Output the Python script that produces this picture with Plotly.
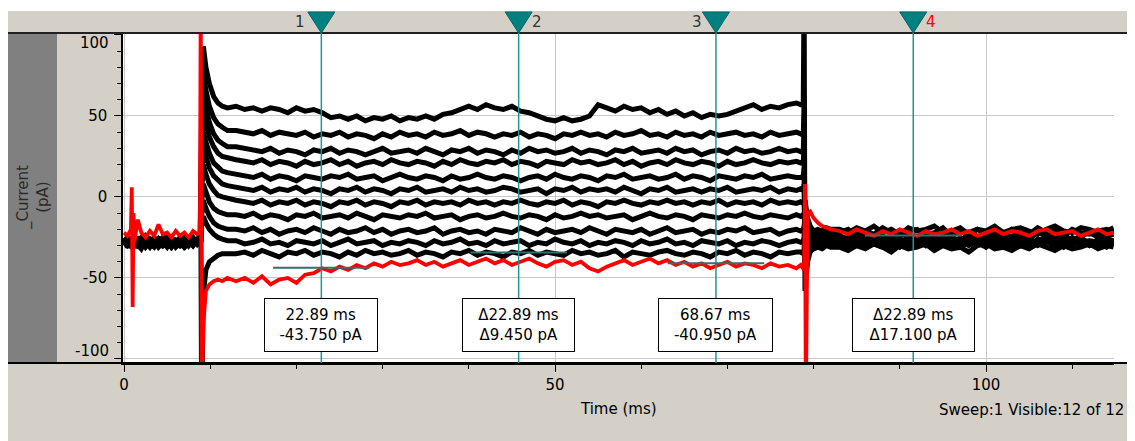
import plotly.graph_objects as go

# ---------------- time base (ms), split in segments ----------------
time_pre = [0, 0.4, 0.8, 0.9, 1.0, 1.1, 1.2, 1.6, 2.0, 2.5, 3.0, 3.5, 4.0, 4.5, 5.0, 5.5,
            6.0, 6.5, 7.0, 7.5, 8.0, 8.5]
time_onset = [8.8, 8.9, 9.0, 9.2, 9.5, 9.9, 10.4, 10.9, 11.4, 12.0]
time_step = [13, 14, 15, 16, 17, 18, 19, 20, 21, 22, 23, 24, 25, 26, 27, 28, 29, 30, 31, 32,
             33, 34, 35, 36, 37, 38, 39, 40, 41, 42, 43, 44, 45, 46, 47, 48, 49, 50, 51, 52,
             53, 54, 55, 56, 57, 58, 59, 60, 61, 62, 63, 64, 65, 66, 67, 68, 69, 70, 71, 72,
             73, 74, 75, 76, 77, 78]
time_offset = [78.5, 78.8, 78.9, 79.0, 79.1, 79.3, 79.6, 80.0, 80.5, 81.0, 81.5, 82.0]
time_tail = [83, 84, 85, 86, 87, 88, 89, 90, 91, 92, 93, 94, 95, 96, 97, 98, 99, 100, 101,
             102, 103, 104, 105, 106, 107, 108, 109, 110, 111, 112, 113, 114, 114.8]

# ---------------- current (pA) per sweep: [pre, onset, step, offset, tail] ----------------
sweep01 = [  # highlighted sweep (red)
    [-22, -24, -20, 6, -68, -10, -28, -14, -22, -25, -21, -24, -17, -23, -22, -25, -21, -24, -22, -25, -21, -23],
    [-22, 130, -130, -78, -58, -54, -52, -51, -52, -50],
    [-52, -50, -53, -49, -54, -51, -50, -53, -48, -47,
     -44, -46, -43, -45, -42, -44, -41, -43, -40, -42,
     -41, -39, -42, -40, -43, -41, -39, -42, -40, -38,
     -41, -39, -42, -40, -38, -41, -43, -40, -39, -42,
     -40, -44, -46, -43, -41, -39, -42, -40, -38, -41,
     -39, -42, -40, -43, -41, -44, -42, -40, -43, -41,
     -42, -44, -41, -43, -42, -44],
    [-42, -44, -45, 8, -130, -10, -9, -13, -16, -18, -19, -20],
    [-21, -23, -20, -22, -24, -21, -23, -20, -22, -24, -21, -23, -22, -20, -23, -21, -24,
     -22, -20, -23, -21, -22, -24, -21, -20, -23, -22, -21, -24, -22, -20, -23, -22],
]
sweep02 = [
    [-27, -29, -26, -28, -25, -30, -27, -29, -26, -28, -31, -27, -29, -26, -28, -30, -27, -29, -25, -28, -30, -27],
    [-27, 2, -130, -60, -45, -40, -38, -36, -35, -35],
    [-35, -34, -36, -33, -35, -37, -34, -35, -33, -36,
     -34, -35, -37, -34, -36, -33, -35, -34, -36, -35,
     -33, -36, -34, -35, -37, -34, -35, -33, -36, -34,
     -35, -37, -34, -35, -33, -36, -34, -35, -36, -33,
     -35, -34, -36, -35, -33, -37, -34, -35, -36, -34,
     -33, -35, -36, -34, -35, -37, -34, -35, -33, -36,
     -34, -35, -37, -34, -35, -34],
    [-34, -35, -33, -2, -8, -13, -18, -21, -23, -24, -25, -26],
    [-26, -28, -25, -29, -27, -24, -28, -26, -30, -27, -25, -28, -26, -29, -27, -24, -28,
     -26, -29, -27, -25, -28, -30, -26, -27, -29, -25, -28, -26, -30, -27, -25, -28],
]
sweep03 = [
    [-28, -26, -30, -27, -29, -31, -28, -26, -29, -27, -28, -30, -26, -29, -27, -31, -28, -26, -29, -27, -28, -26],
    [-27, -28, -18, -12, -16, -20, -23, -25, -26, -27],
    [-27, -29, -28, -26, -29, -28, -30, -27, -28, -29,
     -27, -30, -28, -26, -29, -28, -27, -30, -28, -29,
     -27, -28, -30, -27, -29, -28, -26, -29, -28, -30,
     -27, -29, -28, -27, -30, -28, -29, -26, -28, -29,
     -27, -30, -28, -29, -27, -28, -30, -27, -29, -28,
     -26, -29, -28, -30, -27, -28, -29, -27, -30, -28,
     -29, -27, -28, -30, -28, -27],
    [-28, -27, -25, -6, -10, -15, -19, -21, -22, -23, -22, -21],
    [-22, -20, -24, -21, -23, -19, -22, -24, -21, -20, -23, -22, -19, -24, -21, -22, -20,
     -23, -21, -24, -20, -22, -23, -19, -22, -21, -24, -20, -22, -23, -21, -20, -22],
]
sweep04 = [
    [-26, -29, -27, -31, -28, -25, -29, -27, -30, -26, -29, -27, -31, -28, -26, -29, -27, -30, -28, -26, -29, -28],
    [-28, -27, -12, -2, -7, -12, -16, -18, -19, -20],
    [-20, -21, -19, -22, -20, -23, -21, -20, -22, -19,
     -21, -23, -20, -22, -21, -19, -22, -20, -23, -21,
     -20, -22, -21, -19, -23, -21, -20, -22, -21, -23,
     -20, -21, -22, -19, -21, -23, -20, -22, -21, -20,
     -22, -19, -21, -23, -20, -21, -22, -20, -23, -21,
     -19, -22, -21, -20, -23, -21, -22, -20, -21, -19,
     -22, -21, -20, -23, -21, -20],
    [-21, -20, -18, -12, -15, -18, -21, -22, -24, -25, -24, -26],
    [-27, -30, -26, -28, -25, -29, -27, -31, -28, -26, -29, -27, -25, -28, -30, -27, -29,
     -26, -28, -31, -27, -25, -29, -28, -26, -30, -27, -28, -25, -29, -27, -31, -28],
]
sweep05 = [
    [-29, -27, -25, -29, -32, -27, -26, -30, -28, -24, -27, -29, -26, -30, -28, -25, -29, -27, -31, -28, -26, -27],
    [-26, -27, -4, 8, 3, -3, -7, -9, -10, -11],
    [-11, -12, -10, -13, -11, -12, -14, -11, -12, -10,
     -13, -12, -11, -13, -10, -12, -14, -11, -12, -13,
     -11, -12, -10, -13, -12, -11, -14, -12, -11, -13,
     -12, -10, -12, -13, -11, -12, -14, -11, -13, -12,
     -10, -12, -11, -13, -12, -11, -14, -12, -10, -12,
     -13, -11, -12, -14, -11, -12, -13, -11, -12, -10,
     -12, -13, -11, -12, -13, -11],
    [-12, -11, -10, -20, -21, -22, -23, -24, -25, -24, -25, -24],
    [-24, -26, -22, -25, -23, -27, -24, -22, -25, -26, -23, -24, -21, -25, -27, -23, -24,
     -26, -22, -25, -24, -23, -26, -22, -24, -25, -23, -27, -24, -22, -25, -24, -23],
]
sweep06 = [
    [-25, -28, -30, -26, -27, -29, -31, -27, -25, -29, -26, -28, -30, -27, -24, -28, -30, -26, -28, -29, -27, -29],
    [-27, -26, 4, 20, 14, 8, 4, 1, 0, -1],
    [-2, -3, -4, -2, -5, -3, -4, -2, -5, -3,
     -4, -6, -3, -4, -2, -5, -3, -4, -6, -3,
     -4, -2, -5, -3, -4, -3, -5, -2, -4, -3,
     -5, -3, -4, -2, -4, -5, -3, -4, -2, -5,
     -3, -4, -6, -3, -4, -2, -4, -5, -3, -4,
     -2, -4, -3, -5, -3, -4, -2, -5, -3, -4,
     -3, -5, -2, -4, -3, -4],
    [-3, -4, -2, -26, -25, -24, -25, -26, -24, -26, -25, -27],
    [-25, -28, -30, -26, -29, -27, -24, -28, -30, -27, -26, -29, -27, -30, -25, -28, -26,
     -29, -31, -27, -25, -28, -27, -30, -26, -28, -29, -25, -27, -30, -28, -26, -27],
]
sweep07 = [
    [-30, -27, -29, -26, -28, -30, -27, -29, -32, -27, -26, -29, -27, -25, -29, -27, -31, -28, -26, -30, -27, -28],
    [-28, -26, 12, 30, 24, 18, 13, 10, 8, 7],
    [6, 5, 4, 6, 3, 5, 4, 6, 3, 5,
     4, 2, 5, 4, 6, 3, 5, 4, 2, 5,
     4, 6, 3, 4, 5, 3, 6, 4, 5, 3,
     4, 6, 5, 3, 4, 5, 2, 5, 4, 6,
     3, 5, 4, 5, 3, 6, 4, 2, 5, 4,
     6, 3, 4, 5, 3, 5, 4, 6, 3, 4,
     5, 4, 6, 3, 5, 4],
    [5, 4, 8, -30, -28, -27, -26, -25, -26, -27, -25, -26],
    [-28, -30, -27, -25, -29, -28, -31, -26, -28, -27, -30, -25, -28, -29, -26, -30, -27,
     -28, -25, -29, -30, -27, -26, -29, -28, -24, -28, -30, -26, -28, -29, -27, -30],
]
sweep08 = [
    [-27, -31, -26, -29, -27, -24, -28, -30, -27, -26, -29, -31, -27, -28, -30, -26, -28, -25, -29, -27, -30, -26],
    [-26, -25, 20, 40, 34, 27, 21, 18, 16, 15],
    [14, 13, 12, 14, 11, 13, 12, 10, 13, 12,
     11, 13, 12, 14, 11, 12, 13, 10, 12, 14,
     12, 11, 13, 12, 10, 13, 11, 12, 14, 12,
     11, 13, 12, 10, 12, 13, 11, 14, 12, 11,
     13, 12, 10, 13, 12, 14, 11, 12, 13, 11,
     12, 14, 11, 13, 12, 10, 13, 12, 11, 13,
     12, 14, 11, 12, 13, 12],
    [12, 13, 18, -38, -36, -34, -33, -32, -31, -32, -30, -31],
    [-31, -33, -30, -32, -29, -31, -34, -30, -32, -31, -29, -33, -30, -32, -31, -34, -30,
     -29, -32, -31, -33, -30, -32, -29, -31, -33, -30, -32, -31, -29, -32, -30, -31],
]
sweep09 = [
    [-28, -25, -29, -27, -30, -28, -26, -29, -27, -31, -28, -25, -29, -27, -26, -30, -27, -29, -31, -27, -25, -29],
    [-27, -25, 28, 52, 45, 37, 31, 27, 25, 24],
    [23, 22, 21, 23, 20, 22, 21, 19, 22, 20,
     21, 23, 20, 22, 19, 21, 22, 20, 23, 21,
     20, 22, 21, 19, 22, 20, 23, 21, 20, 22,
     21, 23, 20, 22, 21, 19, 22, 21, 20, 23,
     21, 22, 20, 21, 23, 20, 22, 19, 21, 22,
     20, 23, 21, 20, 22, 21, 19, 22, 20, 21,
     23, 21, 20, 22, 21, 22],
    [21, 22, 30, -36, -32, -29, -28, -27, -26, -27, -28, -26],
    [-26, -29, -27, -30, -28, -25, -29, -27, -26, -30, -28, -27, -29, -26, -31, -28, -25,
     -27, -29, -28, -26, -30, -27, -29, -25, -28, -31, -27, -26, -29, -28, -25, -29],
]
sweep10 = [
    [-26, -29, -31, -28, -26, -27, -30, -25, -28, -30, -27, -29, -26, -28, -31, -27, -29, -26, -27, -30, -28, -27],
    [-28, -24, 35, 63, 55, 46, 39, 35, 33, 31],
    [31, 30, 29, 28, 30, 27, 29, 28, 26, 29,
     28, 30, 27, 29, 28, 26, 28, 30, 27, 28,
     29, 27, 30, 28, 26, 29, 28, 30, 27, 29,
     28, 26, 29, 27, 30, 28, 29, 27, 28, 30,
     27, 29, 28, 26, 29, 28, 30, 27, 28, 29,
     27, 30, 28, 29, 26, 28, 29, 27, 30, 28,
     29, 27, 28, 30, 28, 29],
    [28, 29, 45, -40, -33, -27, -23, -21, -20, -21, -19, -20],
    [-20, -22, -19, -21, -18, -22, -20, -23, -19, -21, -20, -18, -22, -21, -19, -23, -20,
     -21, -18, -22, -20, -19, -21, -23, -20, -18, -21, -22, -19, -20, -22, -21, -19],
]
sweep11 = [
    [-29, -26, -28, -30, -27, -29, -26, -28, -31, -27, -29, -26, -28, -30, -27, -25, -28, -30, -27, -29, -26, -28],
    [-26, -22, 45, 76, 66, 56, 49, 45, 43, 41],
    [41, 40, 39, 41, 38, 40, 39, 38, 40, 37,
     39, 38, 40, 37, 39, 38, 36, 39, 37, 40,
     38, 39, 37, 40, 38, 39, 41, 38, 40, 39,
     37, 39, 38, 40, 37, 39, 38, 36, 39, 38,
     40, 38, 39, 37, 40, 38, 39, 41, 38, 39,
     37, 40, 38, 39, 37, 40, 38, 39, 40, 38,
     39, 37, 40, 38, 39, 40],
    [39, 38, 60, -45, -38, -33, -30, -29, -28, -27, -28, -27],
    [-27, -25, -28, -30, -26, -28, -29, -27, -31, -26, -28, -25, -29, -27, -30, -28, -26,
     -29, -27, -25, -30, -28, -26, -29, -27, -31, -28, -26, -29, -27, -28, -30, -27],
]
sweep12 = [
    [-27, -30, -28, -25, -29, -27, -31, -28, -26, -29, -27, -30, -28, -26, -29, -31, -27, -28, -30, -26, -28, -27],
    [-27, -20, 60, 93, 80, 70, 62, 58, 56, 55],
    [56, 54, 55, 53, 55, 54, 52, 55, 53, 54,
     52, 49, 50, 48, 50, 47, 49, 48, 50, 47,
     49, 48, 50, 48, 51, 52, 54, 56, 54, 57,
     55, 54, 56, 53, 52, 50, 48, 47, 49, 47,
     48, 50, 57, 55, 53, 56, 54, 55, 52, 54,
     51, 53, 50, 52, 49, 51, 50, 51, 53, 55,
     57, 54, 56, 55, 57, 58],
    [57, 58, 130, -58, -48, -40, -34, -31, -30, -29, -28, -29],
    [-28, -30, -26, -27, -29, -31, -28, -26, -29, -27, -25, -30, -28, -27, -29, -26, -28,
     -31, -27, -29, -26, -28, -30, -27, -25, -29, -28, -26, -30, -28, -27, -29, -28],
]

# ---------------- cursors ----------------
cursor_names = ["1", "2", "3", "4"]
cursor_times = [22.89, 45.78, 68.67, 91.56]        # ms
cursor_values = [-43.75, -34.30, -40.95, -23.85]   # pA measured at each cursor

x_ticks = [0, 50, 100]
y_ticks = [-100, -50, 0, 50, 100]

time_segments = [time_pre, time_onset, time_step, time_offset, time_tail]


def assemble(segments):
    xs, ys = [], []
    for tseg, vseg in zip(time_segments, segments):
        n = min(len(tseg), len(vseg))
        xs += tseg[:n]
        ys += vseg[:n]
    return xs, ys


FONT = "DejaVu Sans"
W, H = 1135, 441
OFF = 8  # page body margin
ML, MR, MT, MB = 115, 29, 26, 86
PW, PH = W - ML - MR, H - MT - MB
X_RANGE = [-0.12, 114.85]


def px(xr):
    """window pixel x -> paper coordinate"""
    return (xr - OFF - ML) / PW


def py(yr):
    """window pixel y -> paper coordinate"""
    return (H - MB - (yr - OFF)) / PH


fig = go.Figure()

black_sweeps = [sweep02, sweep03, sweep04, sweep05, sweep06, sweep07,
                sweep08, sweep09, sweep10, sweep11, sweep12]
for sw in black_sweeps:
    xs, ys = assemble(sw)
    fig.add_trace(go.Scatter(x=xs, y=ys, mode="lines",
                             line=dict(color="black", width=5),
                             hoverinfo="skip", showlegend=False))
xs, ys = assemble(sweep01)
fig.add_trace(go.Scatter(x=xs, y=ys, mode="lines",
                         line=dict(color="#ff0000", width=3.8),
                         hoverinfo="skip", showlegend=False))

shapes = []
gray = "#d4d0c8"
# frame bands
shapes.append(dict(type="rect", xref="paper", yref="paper", x0=px(8), x1=px(1145),
                   y0=py(33), y1=py(11), fillcolor=gray, line=dict(width=0), layer="below"))
shapes.append(dict(type="rect", xref="paper", yref="paper", x0=px(8), x1=px(57),
                   y0=py(363), y1=py(33), fillcolor="#808080", line=dict(width=0), layer="below"))
shapes.append(dict(type="rect", xref="paper", yref="paper", x0=px(57), x1=px(123),
                   y0=py(363), y1=py(33), fillcolor=gray, line=dict(width=0), layer="below"))
shapes.append(dict(type="rect", xref="paper", yref="paper", x0=px(8), x1=px(1145),
                   y0=py(450), y1=py(363), fillcolor=gray, line=dict(width=0), layer="below"))
shapes.append(dict(type="line", xref="paper", yref="paper", x0=px(8), x1=px(1145),
                   y0=py(33), y1=py(33), line=dict(color="#202020", width=2)))
shapes.append(dict(type="line", xref="paper", yref="paper", x0=px(8), x1=px(1145),
                   y0=py(363), y1=py(363), line=dict(color="black", width=2)))

annotations = []
half_tri = 13.5 / (PW / (X_RANGE[1] - X_RANGE[0]))
label_shift = [-21, 18, -19, 18]
label_color = ["#333333", "#333333", "#333333", "#ff0000"]
for i, (nm, tc, vc) in enumerate(zip(cursor_names, cursor_times, cursor_values)):
    shapes.append(dict(type="line", xref="x", yref="paper", x0=tc, x1=tc,
                       y0=0, y1=py(32), line=dict(color="#249494", width=1.5)))
    shapes.append(dict(type="path", xref="x", yref="paper",
                       path=f"M {tc - half_tri},{py(12)} L {tc + half_tri},{py(12)} L {tc},{py(33)} Z",
                       fillcolor="#008080", line=dict(color="#006666", width=1)))
    shapes.append(dict(type="line", xref="x", yref="y", x0=tc - 5.6, x1=tc + 5.6,
                       y0=vc, y1=vc, line=dict(color="#346e6e", width=2)))
    annotations.append(dict(x=tc, y=py(22), xref="x", yref="paper", text=nm,
                            xshift=label_shift[i], showarrow=False,
                            xanchor="center", yanchor="middle",
                            font=dict(family=FONT, size=15, color=label_color[i])))

# measurement boxes
box_text = []
for i in range(4):
    if i % 2 == 0:
        box_text.append(f"{cursor_times[i]:.2f} ms<br>{cursor_values[i]:.3f} pA")
    else:
        dt = cursor_times[i] - cursor_times[i - 1]
        dv = cursor_values[i] - cursor_values[i - 1]
        box_text.append(f"\u0394{dt:.2f} ms<br>\u0394{dv:.3f} pA")
box_w = [108, 107, 109, 117]
for i, tc in enumerate(cursor_times):
    annotations.append(dict(x=tc, y=py(325), xref="x", yref="paper", text=box_text[i],
                            showarrow=False, bgcolor="white", bordercolor="black",
                            borderwidth=1, borderpad=2, width=box_w[i], height=48,
                            xanchor="center", yanchor="middle",
                            align="center", valign="middle",
                            font=dict(family=FONT, size=15, color="black")))

# edge tick labels of the y axis are drawn inside the frame, as in the original
annotations.append(dict(x=px(111), y=py(43), xref="paper", yref="paper",
                        text=str(y_ticks[-1]), xanchor="right", yanchor="middle",
                        showarrow=False, font=dict(family=FONT, size=15, color="black")))
annotations.append(dict(x=px(111), y=py(351), xref="paper", yref="paper",
                        text=str(y_ticks[0]), xanchor="right", yanchor="middle",
                        showarrow=False, font=dict(family=FONT, size=15, color="black")))

annotations.append(dict(x=px(33), y=py(198), xref="paper", yref="paper",
                        text="_Current<br>(pA)", textangle=-90, showarrow=False,
                        xanchor="center", yanchor="middle",
                        font=dict(family=FONT, size=15, color="#2a2a2a")))
annotations.append(dict(x=px(618), y=py(409), xref="paper", yref="paper", text="Time (ms)",
                        xanchor="center", yanchor="middle",
                        showarrow=False, font=dict(family=FONT, size=15, color="black")))
annotations.append(dict(x=px(937), y=py(410), xref="paper", yref="paper",
                        text="Sweep:1 Visible:12 of 12", xanchor="left", yanchor="middle",
                        showarrow=False, font=dict(family=FONT, size=15, color="black")))

y_ticktext = [str(v) if v not in (y_ticks[0], y_ticks[-1]) else "" for v in y_ticks]

fig.update_layout(
    width=W, height=H, autosize=False,
    margin=dict(l=ML, r=MR, t=MT, b=MB, pad=0),
    paper_bgcolor="white", plot_bgcolor="white",
    font=dict(family=FONT, size=15, color="black"),
    shapes=shapes, annotations=annotations, showlegend=False,
    xaxis=dict(range=X_RANGE, tickvals=x_ticks, ticks="outside", ticklen=7,
               tickcolor="black", tickwidth=1, showline=True, linecolor="black", linewidth=2,
               showgrid=True, gridcolor="#c8c8c8", gridwidth=1, zeroline=False,
               tickfont=dict(family=FONT, size=15, color="black"),
               minor=dict(dtick=10, tick0=0, ticks="outside", ticklen=4, tickcolor="black",
                          showgrid=False)),
    yaxis=dict(range=[-102.5, 100.6], tickvals=y_ticks, ticktext=y_ticktext,
               ticks="outside", ticklen=7,
               tickcolor="black", tickwidth=1, showline=True, linecolor="black", linewidth=1.5,
               showgrid=True, gridcolor="#c8c8c8", gridwidth=1, zeroline=False,
               ticklabelstandoff=4,
               tickfont=dict(family=FONT, size=15, color="black"),
               minor=dict(dtick=10, tick0=0, ticks="outside", ticklen=4, tickcolor="black",
                          showgrid=False)),
)

fig.write_html("out.html")
